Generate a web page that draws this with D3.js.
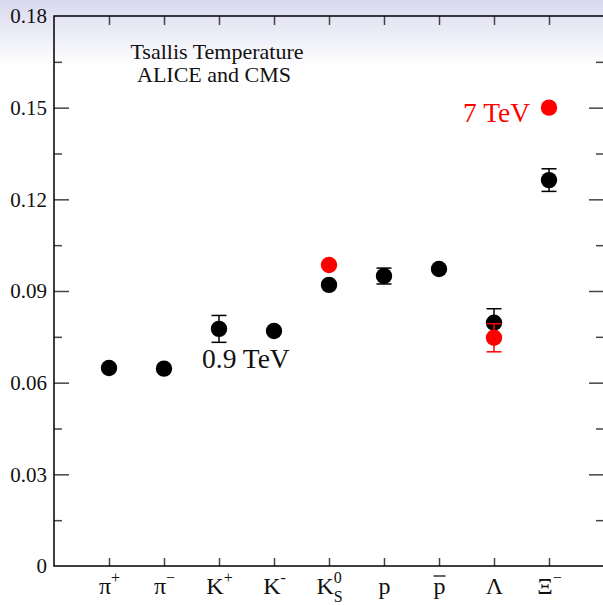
<!DOCTYPE html>
<html>
<head>
<meta charset="utf-8">
<script src="https://cdn.jsdelivr.net/npm/d3@7/dist/d3.min.js"></script>
<style>
  html, body { margin: 0; padding: 0; background: #fff; }
  text { font-family: "Liberation Serif", "Times New Roman", serif; fill: #111; }
</style>
</head>
<body>
<div id="chart"></div>
<script>
(function () {
    'use strict';
    var width = 603;
    var height = 605;

    // particle labels (base glyph + super/subscripts)
    var labelBase = ["π", "π", "K", "K", "K", "p", "p", "Λ", "Ξ"];
    var labelSup = ["+", "−", "+", "-", "0", "", "", "", "−"];
    var labelSub = ["", "", "", "", "S", "", "", "", ""];
    var labelBar = [false, false, false, false, false, false, true, false, false];

    // 0.9 TeV (black)
    var tLow = [0.0648, 0.0646, 0.0776, 0.0769, 0.0920, 0.0949, 0.0972, 0.0796, 0.1263];
    var tLowErr = [0, 0, 0.0044, 0, 0, 0.0026, 0, 0.0046, 0.0037];
    // 7 TeV (red), only for K0S, Lambda, Xi
    var tHighIdx = [5, 8, 9];
    var tHigh = [0.0985, 0.0747, 0.150];
    var tHighErr = [0, 0.0046, 0];

    var yTicks = [0, 0.03, 0.06, 0.09, 0.12, 0.15, 0.18];
    var yMinor = [0.015, 0.045, 0.075, 0.105, 0.135, 0.165];
    var xTicks = [1, 2, 3, 4, 5, 6, 7, 8, 9];

    var svg = d3.select('#chart')
        .append('svg')
        .attr('width', width)
        .attr('height', height);

    var defs = svg.append('defs');
    var grad = defs.append('linearGradient')
        .attr('id', 'bg').attr('x1', 0).attr('y1', 0).attr('x2', 0).attr('y2', 1);
    grad.append('stop').attr('offset', '0%').attr('stop-color', '#d9d9ef');
    grad.append('stop').attr('offset', '11%').attr('stop-color', '#ffffff');
    grad.append('stop').attr('offset', '100%').attr('stop-color', '#ffffff');
    svg.append('rect').attr('width', width).attr('height', height).attr('fill', 'url(#bg)');

    var x = d3.scaleLinear().domain([0, 10]).range([54, 604]);
    var y = d3.scaleLinear().domain([0, 0.18]).range([566, 16]);

    var styleAxis = function (g) {
        g.select('.domain').remove();
        g.selectAll('.tick line').attr('stroke', '#444').attr('stroke-width', 1.5);
    };

    // minor y ticks (left and right)
    svg.append('g').attr('transform', 'translate(54,0)')
        .call(d3.axisLeft(y).tickValues(yMinor).tickSize(-8).tickFormat(''))
        .call(styleAxis);
    svg.append('g').attr('transform', 'translate(604,0)')
        .call(d3.axisRight(y).tickValues(yMinor).tickSize(-8).tickFormat(''))
        .call(styleAxis);

    // major y ticks
    var yAxis = svg.append('g').attr('transform', 'translate(54,0)')
        .call(d3.axisLeft(y).tickValues(yTicks).tickSize(-15).tickPadding(7)
            .tickFormat(function (d) { return d === 0 ? '0' : d3.format('.2f')(d); }))
        .call(styleAxis);
    yAxis.selectAll('.tick text')
        .style('font-family', '"Liberation Serif", serif')
        .style('font-size', '21px')
        .attr('fill', '#111');
    yAxis.selectAll('.tick').filter(function (d) { return d === 0 || d === 0.18; })
        .select('line').remove();
    svg.append('g').attr('transform', 'translate(604,0)')
        .call(d3.axisRight(y).tickValues(yTicks.slice(1, -1)).tickSize(-15).tickFormat(''))
        .call(styleAxis);

    // x ticks top and bottom
    var xAxis = svg.append('g').attr('transform', 'translate(0,566)')
        .call(d3.axisBottom(x).tickValues(xTicks).tickSize(-8).tickFormat(''))
        .call(styleAxis);
    svg.append('g').attr('transform', 'translate(0,16)')
        .call(d3.axisTop(x).tickValues(xTicks).tickSize(-9).tickFormat(''))
        .call(styleAxis);

    // particle labels
    xAxis.selectAll('.tick').each(function (d, i) {
        var t = d3.select(this).append('text')
            .attr('y', 28)
            .attr('text-anchor', 'middle')
            .style('font-size', '24px');
        t.append('tspan').text(labelBase[i]);
        if (labelSup[i]) {
            t.append('tspan').attr('dy', -11).style('font-size', '16px').text(labelSup[i]);
        }
        if (labelSub[i]) {
            t.append('tspan').attr('dx', -8).attr('dy', 19).style('font-size', '16px').text(labelSub[i]);
        }
        if (labelBar[i]) {
            d3.select(this).append('line')
                .attr('x1', -6).attr('x2', 6).attr('y1', 10).attr('y2', 10)
                .attr('stroke', '#111').attr('stroke-width', 1.3);
        }
    });

    // frame
    svg.append('rect')
        .attr('x', 54).attr('y', 16).attr('width', 550).attr('height', 550)
        .attr('fill', 'none').attr('stroke', '#000').attr('stroke-width', 1.5);

    // annotation texts
    svg.append('text').attr('x', 217).attr('y', 59).attr('text-anchor', 'middle')
        .style('font-size', '22px').text('Tsallis Temperature');
    svg.append('text').attr('x', 214).attr('y', 82).attr('text-anchor', 'middle')
        .style('font-size', '22px').text('ALICE and CMS');
    svg.append('text').attr('x', 202).attr('y', 368)
        .style('font-size', '27.5px').text('0.9 TeV');
    svg.append('text').attr('x', 463).attr('y', 122)
        .style('font-size', '27.5px').style('fill', '#ff0000').text('7 TeV');

    var drawSeries = function (xs, vals, errs, color) {
        var g = svg.append('g');
        var data = vals.map(function (v, i) { return { x: xs[i], v: v, e: errs[i] }; });
        var withErr = data.filter(function (d) { return d.e > 0; });
        var eb = g.selectAll('.err').data(withErr).enter().append('g')
            .attr('stroke', color).attr('stroke-width', 1.5);
        eb.append('line')
            .attr('x1', function (d) { return x(d.x); })
            .attr('x2', function (d) { return x(d.x); })
            .attr('y1', function (d) { return y(d.v + d.e); })
            .attr('y2', function (d) { return y(d.v - d.e); });
        [1, -1].forEach(function (s) {
            eb.append('line')
                .attr('x1', function (d) { return x(d.x) - 7.5; })
                .attr('x2', function (d) { return x(d.x) + 7.5; })
                .attr('y1', function (d) { return y(d.v + s * d.e); })
                .attr('y2', function (d) { return y(d.v + s * d.e); });
        });
        g.selectAll('circle').data(data).enter().append('circle')
            .attr('cx', function (d) { return x(d.x); })
            .attr('cy', function (d) { return y(d.v); })
            .attr('r', 8.2)
            .attr('fill', color);
    };

    drawSeries(xTicks, tLow, tLowErr, '#000');
    drawSeries(tHighIdx, tHigh, tHighErr, '#ff0000');
}());
</script>
</body>
</html>
